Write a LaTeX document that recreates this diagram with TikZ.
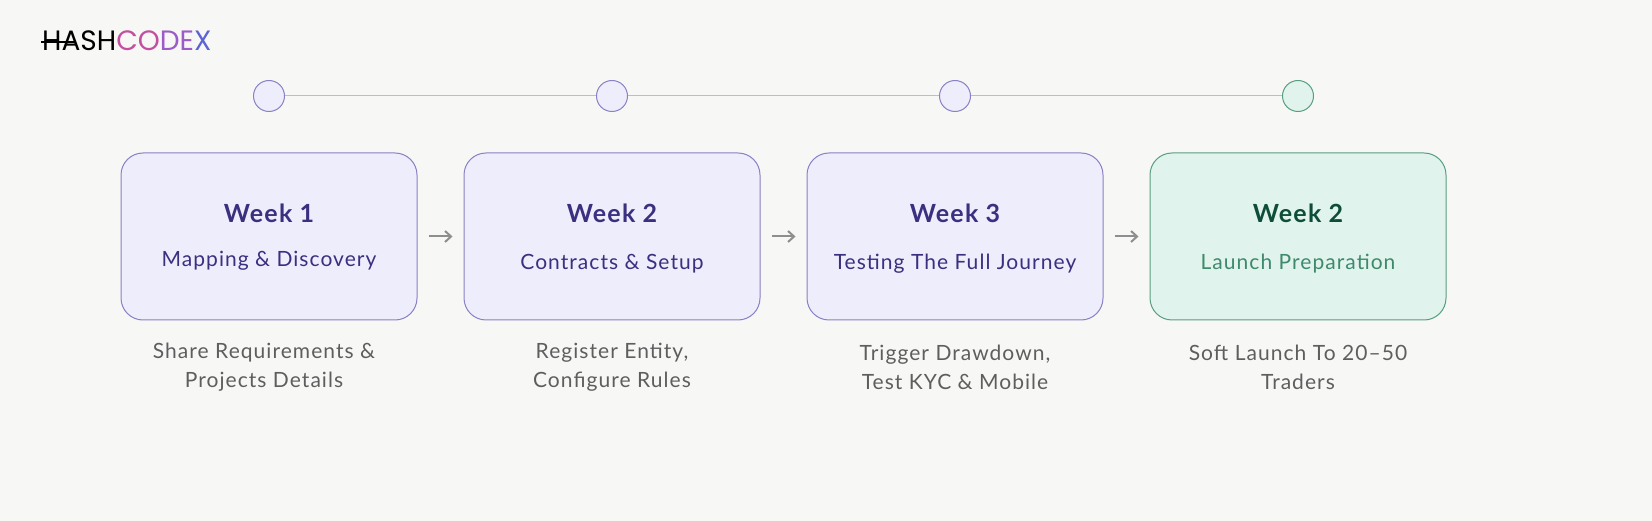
\documentclass[tikz,border=0pt]{standalone}
\usepackage{fontspec}
\setmainfont{Lato}[LetterSpace=5]
\newfontfamily\logofont{Poppins}
\usetikzlibrary{arrows.meta}
\definecolor{bg}{HTML}{F7F7F6}
\definecolor{pfill}{HTML}{EEEDFC}
\definecolor{pdraw}{HTML}{8A80C4}
\definecolor{ptext}{HTML}{3B2F80}
\definecolor{gfill}{HTML}{E0F3EC}
\definecolor{gdraw}{HTML}{5A9E82}
\definecolor{gtitle}{HTML}{0E4D3A}
\definecolor{gtext}{HTML}{3F8A6C}
\definecolor{gray}{HTML}{5E5E5E}
\begin{document}
\begin{tikzpicture}[x=1pt,y=-1pt,
 box/.style={draw=pdraw,fill=pfill,rounded corners=22pt,minimum width=296pt,minimum height=167pt,line width=1pt},
 gbox/.style={box,draw=gdraw,fill=gfill},
 dot/.style={circle,draw=pdraw,fill=pfill,minimum size=31pt,inner sep=0pt,line width=1pt},
 title/.style={font=\fontsize{25}{28}\selectfont\bfseries,text=ptext},
 sub/.style={font=\fontsize{21}{24}\selectfont,text=ptext},
 below/.style={font=\fontsize{21}{29}\selectfont,text=gray,align=center},
 arr/.style={->,draw=gray!70,line width=2pt,>={Straight Barb[length=6pt,width=11pt]}}]
\fill[bg] (0,0) rectangle (1652,521);
\useasboundingbox (0,0) rectangle (1652,521);
\node[anchor=west,inner sep=0pt,font=\logofont\fontsize{28}{30}\selectfont] (logo) at (42,41) {HASH\textcolor[HTML]{C44FA0}{CO}\textcolor[HTML]{9B5BC8}{DE}\textcolor[HTML]{5B63D6}{X}};
\draw[line width=1.2pt] (41,42) -- (76,42);
\draw[gray!40,line width=1pt] (284,96) -- (1283,96);
\node[dot] (d1) at (269,96) {};
\node[dot] (d2) at (612,96) {};
\node[dot] (d3) at (955,96) {};
\node[dot,draw=gdraw,fill=gfill] (d4) at (1298,96) {};
\node[box] (b1) at (269,236.5) {};
\node[box] (b2) at (612,236.5) {};
\node[box] (b3) at (955,236.5) {};
\node[gbox] (b4) at (1298,236.5) {};
\node[title] (t1) at (269,213) {Week 1};
\node[title] (t2) at (612,213) {Week 2};
\node[title] (t3) at (955,213) {Week 3};
\node[title,text=gtitle] (t4) at (1298,213) {Week 2};
\node[sub] (s1) at (269,261) {Mapping \& Discovery};
\node[sub] (s2) at (612,264) {Contracts \& Setup};
\node[sub] (s3) at (955,264) {Testing The Full Journey};
\node[sub,text=gtext] (s4) at (1298,264) {Launch Preparation};
\node[below] (l1) at (264,367) {Share Requirements \&\\Projects Details};
\node[below] (l2) at (612,367) {Register Entity,\\Configure Rules};
\node[below] (l3) at (955,367) {Trigger Drawdown,\\Test KYC \& Mobile};
\node[below] (l4) at (1298,367) {Soft Launch To 20–50\\Traders};
\draw[arr] (b1.east)++(11,0) -- ++(24,0);
\draw[arr] (b2.east)++(11,0) -- ++(24,0);
\draw[arr] (b3.east)++(11,0) -- ++(24,0);
\end{tikzpicture}
\end{document}
